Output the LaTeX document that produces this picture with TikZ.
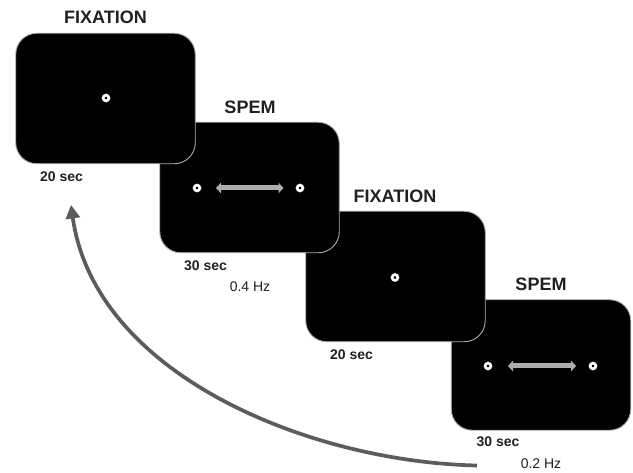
\documentclass[tikz,border=0pt]{standalone}
\usepackage{fontspec}
\setmainfont{Liberation Sans}
\usetikzlibrary{arrows.meta}
\definecolor{rimgray}{gray}{0.68}
\definecolor{movegray}{gray}{0.68}
\definecolor{loopgray}{gray}{0.36}
\definecolor{labelgray}{gray}{0.13}
\tikzset{
  x=1pt,y=-1pt,
  screen/.style={draw=rimgray,line width=0.9pt,fill=black,rounded corners=21pt,minimum width=179.5pt,minimum height=130.5pt,inner sep=0pt,outer sep=0pt},
  target/.style={circle,draw=white,fill=black,line width=2.7pt,minimum size=5.8pt,inner sep=0pt},
  heading/.style={font=\fontsize{18}{20}\selectfont\bfseries,text=labelgray,inner sep=0pt},
  duration/.style={font=\fontsize{14}{16}\selectfont\bfseries,text=labelgray,inner sep=0pt},
  freq/.style={font=\fontsize{14}{16}\selectfont,text=labelgray,inner sep=0pt},
  motion/.style={draw=movegray,line width=5pt,{Triangle[width=10.5pt,length=5pt]}-{Triangle[width=10.5pt,length=5pt]}},
  loopback/.style={draw=loopgray,line width=3.7pt,-{Triangle[width=14pt,length=13.5pt]}}
}
\begin{document}
\begin{tikzpicture}
\useasboundingbox (0,0) rectangle (633,473);
\fill[white] (0,0) rectangle (633,473);
% screens: earlier screens lie on top of later ones
\node[screen] (s4) at (541,365) {};
\node[screen] (s3) at (395.5,276.5) {};
\node[screen] (s2) at (249.5,187.5) {};
\node[screen] (s1) at (105.5,98.5) {};
% targets
\node[target] (t1) at (106,98) {};
\node[target] (t2l) at (197,188) {};
\node[target] (t2r) at (300,188) {};
\node[target] (t3) at (395,277.5) {};
\node[target] (t4l) at (488,366) {};
\node[target] (t4r) at (593,366) {};
% motion arrows
\coordinate (m2l) at (216,188);
\coordinate (m2r) at (283.5,188);
\coordinate (m4l) at (508,366);
\coordinate (m4r) at (576,366);
\draw[motion] (m2l) -- (m2r);
\draw[motion] (m4l) -- (m4r);
% headings
\node[heading] (h1) at (105.5,17.5) {FIXATION};
\node[heading] (h2) at (250,107) {SPEM};
\node[heading] (h3) at (395,196.5) {FIXATION};
\node[heading] (h4) at (541,284.5) {SPEM};
% durations
\node[duration] (d1) at (61.5,177) {20 sec};
\node[duration] (d2) at (205.5,265.5) {30 sec};
\node[duration] (d3) at (351.5,354.5) {20 sec};
\node[duration] (d4) at (498,441.5) {30 sec};
% frequencies
\node[freq] (f1) at (250,286.5) {0.4 Hz};
\node[freq] (f2) at (541,464) {0.2 Hz};
% loop
\coordinate (loopstart) at (477,465.5);
\coordinate (looptip) at (71,205);
\draw[loopback] (loopstart) .. controls (310,462) and (95,375) .. (looptip);
\end{tikzpicture}
\end{document}
